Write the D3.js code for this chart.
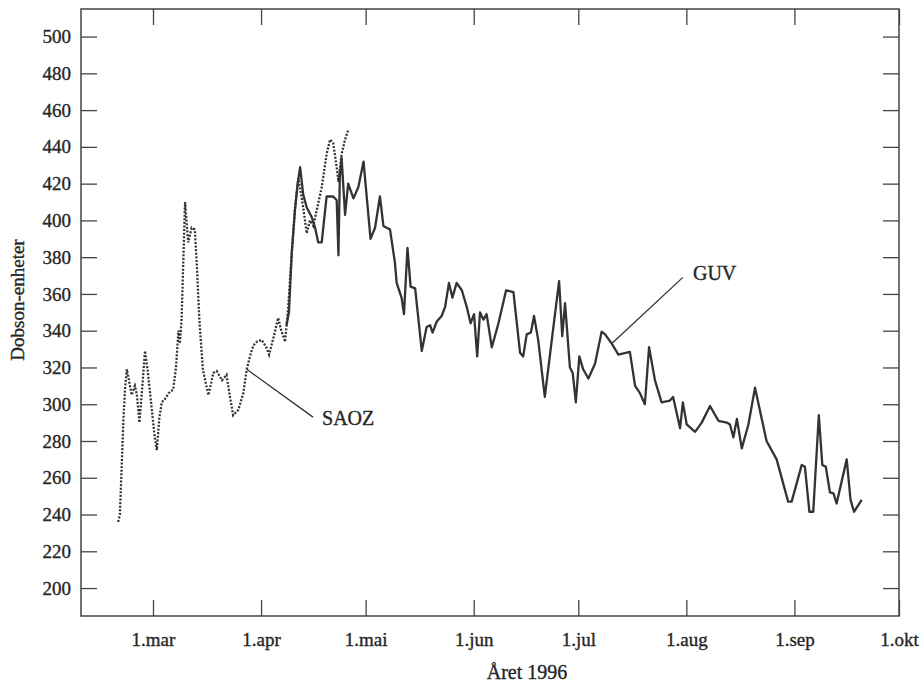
<!DOCTYPE html>
<html>
<head>
<meta charset="utf-8">
<title>Dobson-enheter 1996</title>
<script src="https://d3js.org/d3.v7.min.js"></script>
<style>
    body { margin: 0; background: #fff; }
    .tick text, .lbl { font-family: "Liberation Serif", "DejaVu Serif", serif; fill: #262626; stroke: #262626; stroke-width: 0.35px; }
    .tick line { stroke: #444; stroke-width: 1.3px; }
</style>
</head>
<body>
<div id="chart"></div>
<script>
    // day of year 1996 (1 = 1 Jan) and ozone values in Dobson units
    const saozDay = [51, 51.5, 52, 52.5, 53, 53.5, 54.2, 54.9, 55.8, 56.4, 57.1, 57.8, 58.7, 59.5, 60.5, 61.5, 62.1, 62.8,
        63.5, 64.5, 65.5, 66.8, 67.6, 68.3, 68.7, 69.2, 69.7, 70.2, 71.1, 72.1, 73.0, 73.6, 74.3, 75.3, 76.2, 76.9,
        77.5, 78.3, 79.3, 80.8, 82.1, 83.0, 84.0, 85.5, 86.9, 87.9, 88.8, 89.8, 90.8, 92.2, 93.5, 94.3, 95.8, 96.9,
        97.8, 98.9, 99.8, 100.8, 101.7, 102.7, 104.1, 105.1, 106.0, 107.0, 109.4, 110.8, 111.8, 112.7, 113.7, 114.2,
        115.1, 116.1, 117.0];
    const saozVal = [236, 240, 265, 291, 309, 319, 312, 305, 310, 305, 290, 306, 329, 318, 300, 282, 275, 292,
        301, 303, 306, 308, 320, 340, 333, 346, 378, 410, 388, 396, 395, 375, 346, 319, 311, 305,
        310, 317, 318, 313, 316, 305, 294, 297, 306, 319, 326, 332, 334, 335, 331, 327, 338, 347,
        340, 334, 353, 382, 406, 423, 407, 393, 400, 397, 418, 436, 444, 442, 429, 421,
        436, 444, 449];

    const guvDay = [99.3, 100.0, 100.8, 101.7, 102.5, 103.2, 104.1, 105.1, 106.5, 107.5, 108.4, 109.4, 110.8, 112.7,
        113.7, 114.2, 114.6, 115.1, 116.1, 117.0, 118.5, 119.9, 121.4, 123.4, 124.7, 126.1, 127.1, 129.0, 130.4,
        130.9, 132.3, 133.0, 134.0, 134.9, 136.2, 138.1, 139.5, 140.5, 141.2, 142.4, 143.8, 144.8, 145.9, 146.9,
        148.1, 149.6, 151.0, 152.1, 153.1, 154.0, 154.8, 155.8, 156.7, 158.2, 160.1, 162.3, 164.4, 166.3, 167.2,
        168.2, 169.4, 170.3, 171.5, 173.4, 175.4, 177.5, 178.4, 179.2, 180.6, 181.4, 182.3, 183.3, 184.4, 185.9,
        187.8, 189.7, 190.7, 192.6, 194.5, 197.8, 199.3, 200.7, 202.1, 203.3, 205.0, 206.9, 209.3, 210.2, 212.2,
        213.0, 214.1, 216.5, 218.4, 220.8, 223.2, 225.6, 226.5, 227.5, 228.5, 229.9, 231.8, 233.7, 237.0, 239.9,
        243.2, 244.2, 247.1, 248.0, 249.3, 250.4, 252.0, 253.0, 254.0, 255.2, 256.2, 257.1, 260.0, 261.1, 262.1,
        264.3];
    const guvVal = [343, 350, 382, 405, 420, 429, 414, 407, 402, 396, 388, 388, 413, 413,
        411, 381, 424, 434, 403, 420, 412, 418, 432, 390, 396, 413, 397, 395, 377,
        366, 358, 349, 385, 364, 363, 329, 342, 343, 339, 345, 348, 353, 366, 358,
        366, 362, 353, 344, 349, 326, 350, 346, 349, 331, 344, 362, 361, 328, 326,
        338, 339, 348, 335, 304, 335, 367, 337, 355, 320, 317, 301, 326, 319, 314,
        322, 339.5, 338, 333, 327, 328.5, 310, 306, 300, 331, 313, 301, 302, 304, 287,
        301, 289, 285, 290, 299, 291, 290, 289, 282, 292, 276, 289, 309, 280, 270,
        247, 247, 267, 266, 241.5, 241.5, 294, 267, 266, 252, 251.5, 246, 270, 248, 241.5,
        248];

    const monthTicks = [2, 3, 4, 5, 6, 7, 8, 9];   // month index (0 = jan), first day
    const monthLabels = ["1.mar", "1.apr", "1.mai", "1.jun", "1.jul", "1.aug", "1.sep", "1.okt"];
    const yTicks = d3.range(200, 501, 20);

    const width = 923, height = 682;
    const margin = {top: 9, right: 24, bottom: 66, left: 81};
    const w = width - margin.left - margin.right;
    const h = height - margin.top - margin.bottom;

    const dayToDate = d => new Date(Date.UTC(1996, 0, 1) + (d - 1) * 864e5);

    const x = d3.scaleUtc()
        .domain([dayToDate(40.35), dayToDate(275)])
        .range([0, w]);
    const y = d3.scaleLinear()
        .domain([184.8, 515])
        .range([h, 0]);

    const svg = d3.select("#chart").append("svg")
        .attr("width", width)
        .attr("height", height);
    const g = svg.append("g").attr("transform", `translate(${margin.left},${margin.top})`);

    const tickDates = monthTicks.map(m => new Date(Date.UTC(1996, m, 1)));
    const fmtMonth = (d, i) => monthLabels[i];

    g.append("g")
        .attr("transform", `translate(0,${h})`)
        .call(d3.axisBottom(x).tickValues(tickDates).tickFormat(fmtMonth).tickSize(-16).tickPadding(17))
        .call(a => a.select(".domain").remove())
        .selectAll("text").style("font-size", "19px");
    g.append("g")
        .call(d3.axisTop(x).tickValues(tickDates).tickFormat("").tickSize(-16))
        .call(a => a.select(".domain").remove());
    g.append("g")
        .call(d3.axisLeft(y).tickValues(yTicks).tickSize(-16).tickPadding(10))
        .call(a => a.select(".domain").remove())
        .selectAll("text").style("font-size", "19px");
    g.append("g")
        .attr("transform", `translate(${w},0)`)
        .call(d3.axisRight(y).tickValues(yTicks).tickFormat("").tickSize(-16))
        .call(a => a.select(".domain").remove());

    g.append("rect")
        .attr("width", w).attr("height", h)
        .attr("fill", "none").attr("stroke", "#444").attr("stroke-width", 1.5);

    const line = d3.line()
        .x(d => x(dayToDate(d[0])))
        .y(d => y(d[1]));

    g.append("path")
        .datum(saozDay.map((d, i) => [d, saozVal[i]]))
        .attr("d", line)
        .attr("fill", "none")
        .attr("stroke", "#333")
        .attr("stroke-width", 2.3)
        .attr("stroke-dasharray", "2,1.6");

    g.append("path")
        .datum(guvDay.map((d, i) => [d, guvVal[i]]))
        .attr("d", line)
        .attr("fill", "none")
        .attr("stroke", "#333")
        .attr("stroke-width", 2.3)
        .attr("stroke-linejoin", "round");

    // labels with leader lines: [from day, from value, to day, to value, text day, text value]
    const notes = [
        {name: "SAOZ", pts: [87.9, 319, 106.9, 293, 109.5, 288.6]},
        {name: "GUV", pts: [192.7, 333.2, 213.0, 369, 215.9, 367.5]}
    ];
    notes.forEach(n => {
        const p = n.pts;
        g.append("line")
            .attr("x1", x(dayToDate(p[0]))).attr("y1", y(p[1]))
            .attr("x2", x(dayToDate(p[2]))).attr("y2", y(p[3]))
            .attr("stroke", "#333").attr("stroke-width", 1.3);
        g.append("text")
            .attr("class", "lbl")
            .attr("x", x(dayToDate(p[4]))).attr("y", y(p[5]))
            .style("font-size", "20px")
            .text(n.name);
    });

    svg.append("text")
        .attr("class", "lbl")
        .attr("x", 527).attr("y", 679)
        .attr("text-anchor", "middle")
        .style("font-size", "20px")
        .text("Året 1996");

    svg.append("text")
        .attr("class", "lbl")
        .attr("transform", "translate(24,300) rotate(-90)")
        .attr("text-anchor", "middle")
        .style("font-size", "19px")
        .text("Dobson-enheter");
</script>
</body>
</html>
